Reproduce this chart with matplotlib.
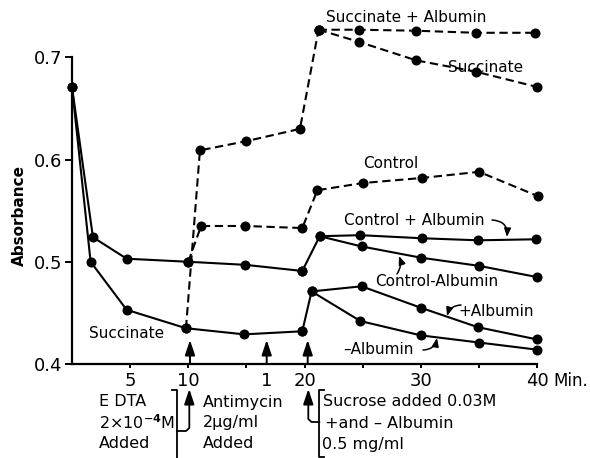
import matplotlib
matplotlib.use('Agg')
import matplotlib.pyplot as plt
from matplotlib.lines import Line2D

W, H = 590, 458

# ---------------- data (time in min, absorbance) ----------------
ctrl_t = [0, 1.8, 4.7, 10.0, 14.9, 19.8]
ctrl_v = [0.671, 0.524, 0.503, 0.500, 0.497, 0.491]

succ_t = [0, 1.6, 4.7, 9.8, 14.8, 19.8]
succ_v = [0.671, 0.500, 0.453, 0.435, 0.429, 0.432]

ctrl_plus_alb_t = [19.8, 21.3, 24.8, 30.1, 34.9, 39.9]
ctrl_plus_alb_v = [0.491, 0.525, 0.526, 0.523, 0.521, 0.522]

ctrl_minus_alb_t = [21.3, 24.9, 30.0, 35.0, 40.0]
ctrl_minus_alb_v = [0.525, 0.515, 0.504, 0.496, 0.485]

succ_plus_alb_t = [19.8, 20.6, 24.9, 30.0, 34.9, 40.0]
succ_plus_alb_v = [0.432, 0.471, 0.476, 0.455, 0.436, 0.424]

succ_minus_alb_t = [20.6, 24.8, 30.0, 35.0, 40.0]
succ_minus_alb_v = [0.471, 0.442, 0.428, 0.421, 0.414]

anti_ctrl_t = [10.0, 11.1, 14.9, 19.8, 21.1, 25.0, 30.1, 35.0, 40.1]
anti_ctrl_v = [0.500, 0.535, 0.535, 0.533, 0.570, 0.577, 0.582, 0.588, 0.564]

anti_succ_t = [9.8, 11.0, 15.0, 19.6, 21.2]
anti_succ_v = [0.435, 0.609, 0.618, 0.630, 0.727]

anti_succ_alb_t = [21.2, 24.7, 29.6, 34.7, 39.8]
anti_succ_alb_v = [0.727, 0.727, 0.726, 0.724, 0.724]

anti_succ_noalb_t = [21.2, 24.7, 29.6, 34.7, 40.0]
anti_succ_noalb_v = [0.727, 0.715, 0.697, 0.686, 0.671]

x_ticks = [5, 10, 15, 20, 25, 30, 35, 40]
x_tick_labels = ['5', '10', '', '20', '', '30', '', '40']
y_ticks = [0.4, 0.5, 0.6, 0.7]
y_tick_labels = ['0.4', '0.5', '0.6', '0.7']

# ---------------- figure ----------------
fig = plt.figure(figsize=(W / 100, H / 100), dpi=100)
ax = fig.add_axes([72 / W, 94 / H, 465.2 / W, 344 / H])
ax.set_xlim(0, 40)
ax.set_ylim(0.4, 0.7365)


def P(x, y):
    """pixel (from top-left) -> figure fraction"""
    return (x / W, 1 - y / H)


solid = dict(color='black', lw=1.5, marker='o', ms=6.2, clip_on=False)
dashed = dict(solid, ls=(0, (4, 2.2)))

ax.plot(ctrl_t, ctrl_v, **solid)
ax.plot(succ_t, succ_v, **solid)
ax.plot(ctrl_plus_alb_t, ctrl_plus_alb_v, **solid)
ax.plot(ctrl_minus_alb_t, ctrl_minus_alb_v, **solid)
ax.plot(succ_plus_alb_t, succ_plus_alb_v, **solid)
ax.plot(succ_minus_alb_t, succ_minus_alb_v, **solid)
ax.plot(anti_ctrl_t, anti_ctrl_v, **dashed)
ax.plot(anti_succ_t, anti_succ_v, **dashed)
ax.plot(anti_succ_alb_t, anti_succ_alb_v, **dashed)
ax.plot(anti_succ_noalb_t, anti_succ_noalb_v, **dashed)

for s in ['top', 'right']:
    ax.spines[s].set_visible(False)
ax.spines['left'].set_bounds(0.4, 0.7)
ax.spines['bottom'].set_bounds(0, 40)
for s in ['left', 'bottom']:
    ax.spines[s].set_linewidth(1.6)

ax.set_xticks(x_ticks)
ax.set_xticklabels(x_tick_labels)
ax.set_yticks(y_ticks)
ax.set_yticklabels(y_tick_labels)
ax.tick_params(axis='y', direction='out', length=5, width=1.4, pad=2, labelsize=13)
ax.tick_params(axis='x', direction='out', length=3, width=1.4, pad=3, labelsize=13)

fig.text(*P(553, 381), 'Min.', fontsize=12, ha='left', va='center')
fig.text(*P(266.7, 381), '1', fontsize=13, ha='center', va='center')
fig.text(*P(19, 216), 'Absorbance', rotation=90, fontsize=11, fontweight='bold',
         ha='center', va='center')

# ---------------- in-plot labels ----------------
lab = dict(fontsize=11, ha='left', va='center')
fig.text(*P(326, 18), 'Succinate + Albumin', **lab)
fig.text(*P(448, 67), 'Succinate', **lab)
fig.text(*P(363, 163), 'Control', **lab)
fig.text(*P(344, 221), 'Control + Albumin', **lab)
fig.text(*P(375, 282), 'Control-Albumin', **lab)
fig.text(*P(458, 312), '+Albumin', **lab)
fig.text(*P(343, 350), '–Albumin', **lab)
fig.text(*P(89, 334), 'Succinate', **lab)

arr = dict(arrowstyle='-|>,head_length=0.5,head_width=0.2', color='black', lw=1.1,
           shrinkA=0, shrinkB=0)


def carrow(p0, p1, rad):
    fig.add_artist(plt.Annotation('', xy=P(*p1), xytext=P(*p0),
                                  xycoords='figure fraction', textcoords='figure fraction',
                                  arrowprops=dict(arr, connectionstyle=f'arc3,rad={rad}')))


carrow((492, 220), (507, 237), -0.5)
carrow((397, 274), (399, 256), 0.25)
carrow((461, 305), (447, 316), 0.35)
carrow((423, 350), (437, 338), 0.4)

# ---------------- addition arrows at axis ----------------
up = dict(arrowstyle='-|>,head_length=0.9,head_width=0.3', color='black', lw=1.4,
          shrinkA=0, shrinkB=0)
for x in [190, 266.7, 307.7]:
    fig.add_artist(plt.Annotation('', xy=P(x, 340), xytext=P(x, 363),
                                  xycoords='figure fraction', textcoords='figure fraction',
                                  arrowprops=up))

# ---------------- bottom annotations ----------------
ann = dict(fontsize=11.5, ha='left', va='center')
fig.text(*P(99, 402), 'E DTA', **ann)
fig.text(*P(99, 423), r'2×10$^{\mathbf{-4}}$M', **ann)
fig.text(*P(99, 444), 'Added', **ann)
fig.text(*P(203, 402), 'Antimycin', **ann)
fig.text(*P(203, 423), '2μg/ml', **ann)
fig.text(*P(203, 444), 'Added', **ann)
fig.text(*P(323, 402), 'Sucrose added 0.03M', **ann)
fig.text(*P(325, 423), '+and – Albumin', **ann)
fig.text(*P(322, 445), '0.5 mg/ml', **ann)


def pline(xs, ys, lw=1.3):
    fig.add_artist(Line2D([x / W for x in xs], [1 - y / H for y in ys],
                          transform=fig.transFigure, color='black', lw=lw))


# EDTA bracket and antimycin arrow
pline([172, 177.3, 177.3], [390, 390, 458])
pline([177.3, 186, 189.3, 189.3], [431, 431, 428, 400])
fig.add_artist(plt.Annotation('', xy=P(189.3, 389), xytext=P(189.3, 402),
                              xycoords='figure fraction', textcoords='figure fraction',
                              arrowprops=up))
# sucrose bracket and arrow
pline([323.5, 319.3, 319.3, 323.5], [390, 390, 456.5, 456.5])
pline([319.3, 311.5, 308.3, 308.3], [422, 422, 419, 400])
fig.add_artist(plt.Annotation('', xy=P(308.3, 389), xytext=P(308.3, 402),
                              xycoords='figure fraction', textcoords='figure fraction',
                              arrowprops=up))

fig.savefig('out.png', dpi=100)
